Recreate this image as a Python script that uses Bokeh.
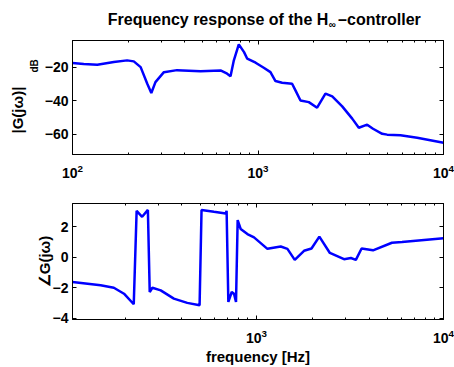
import numpy as np
from bokeh.plotting import figure
from bokeh.models import (LogAxis, LinearAxis, FixedTicker, Range1d, CustomJSTickFormatter,
                          Title)
from bokeh.core.properties import value
from bokeh.layouts import column
from bokeh.embed import file_html
from bokeh.resources import INLINE

FONT = "Liberation Sans"

# ---- data ----
f_mag = [100, 115, 136, 167, 197, 214, 233, 253, 266, 280, 311, 366, 490, 628, 682, 711,
         741, 788, 841, 875, 971, 1074, 1167, 1242, 1349, 1527, 1592, 1694, 1879, 2083,
         2310, 2513, 2844, 3220, 3495, 3877, 4169, 4672, 4970, 5860, 7211, 10000]
mag_db = [-17.6, -18.2, -18.6, -17.0, -16.0, -16.6, -20.0, -29.9, -35.4, -28.9, -23.0,
          -21.8, -22.4, -22.0, -23.9, -25.5, -16.0, -6.5, -11.1, -15.0, -17.4, -20.4,
          -23.0, -28.3, -29.3, -29.9, -33.8, -39.8, -40.8, -44.1, -35.8, -37.4, -43.3,
          -50.6, -56.0, -54.2, -56.6, -59.6, -60.1, -60.5, -61.9, -64.9]

f_ph = [104, 147, 173, 196, 221, 229, 245, 263, 269, 278, 308, 362, 427, 497, 509, 593,
        685, 693, 708, 738, 759, 778, 794, 824, 895, 971, 1145, 1349, 1465, 1603, 1797,
        1970, 2170, 2470, 2940, 3200, 3400, 3650, 4200, 5300, 6000, 10000]
phase = [-1.63, -1.84, -2.0, -2.39, -3.08, 3.04, 2.65, 3.1, -2.28, -2.0, -2.17, -2.71,
         -2.99, -3.15, 3.1, 2.98, 2.87, 3.04, -2.93, -2.28, -2.39, -2.93, 2.43, 1.85,
         1.52, 1.30, 0.55, 0.70, 0.55, -0.17, 0.42, 0.57, 1.35, 0.28, -0.13, -0.05,
         -0.17, 0.57, 0.45, 0.95, 1.0, 1.24]

mag_ticks = [-60, -40, -20]
ph_ticks = [-4, -2, 0, 2]
x_major = [100, 1000, 10000]
x_minor = [200, 300, 400, 500, 600, 700, 800, 900,
           2000, 3000, 4000, 5000, 6000, 7000, 8000, 9000]

title_main = "Frequency response of the H"
title_sub = "∞"
title_end = "–controller"

BLUE = "#0000ff"


def xticker():
    return FixedTicker(ticks=x_major, minor_ticks=x_minor)


def style(p, ticks):
    p.outline_line_color = "black"
    p.outline_line_width = 1
    p.xgrid.visible = False
    p.ygrid.visible = False
    p.xaxis.ticker = xticker()
    p.yaxis.ticker = FixedTicker(ticks=ticks, minor_ticks=[])
    p.yaxis.major_label_overrides = {t: ("−%d" % -t if t < 0 else "%d" % t) for t in ticks}
    # mirrored ticks (box on)
    p.add_layout(LinearAxis(ticker=FixedTicker(ticks=ticks, minor_ticks=[]),
                            formatter=CustomJSTickFormatter(code="return ''")), "right")
    p.add_layout(LogAxis(ticker=xticker(),
                         formatter=CustomJSTickFormatter(code="return ''")), "above")
    for ax in p.axis:
        ax.major_tick_in = 4
        ax.major_tick_out = 0
        ax.minor_tick_in = 2
        ax.minor_tick_out = 0
        ax.axis_line_color = "black"
        ax.major_tick_line_color = "black"
        ax.minor_tick_line_color = "black"
        ax.major_label_text_font = FONT
        ax.major_label_text_font_style = "bold"
        ax.major_label_text_color = "black"
        ax.axis_label_text_font = FONT
        ax.axis_label_text_font_style = "bold"
        ax.axis_label_text_color = "black"
    for ax in p.yaxis:
        ax.major_label_text_font_size = "14px"
        ax.major_label_standoff = 4
    for ax in p.xaxis:
        ax.major_label_text_font_size = "14px"
        ax.major_label_standoff = 9
    p.right[0].major_label_standoff = 0
    p.above[0].major_label_standoff = 0


def side_title(p, text, size, offset=0, standoff=0):
    p.add_layout(Title(text=text, align="left", offset=offset, standoff=standoff,
                       text_font=FONT, text_font_style="bold", text_font_size=size,
                       text_color="black"), "left")


# ---- title strip ----
pt = figure(width=454, height=30, x_range=Range1d(0, 454), y_range=Range1d(0, 30),
            output_backend="svg", toolbar_location=None, min_border=0)
pt.axis.visible = False
pt.grid.visible = False
pt.outline_line_color = None
pt.text(x=[313], y=[11], text=[title_main], text_align="right", text_baseline="alphabetic",
        text_font=value(FONT), text_font_style="bold", text_font_size="16px",
        text_color="black")
pt.text(x=[313.5], y=[6], text=[title_sub], text_align="left", text_baseline="alphabetic",
        text_font=value(FONT), text_font_style="bold", text_font_size="10px",
        text_color="black")
pt.text(x=[325], y=[11], text=[title_end], text_align="left", text_baseline="alphabetic",
        text_font=value(FONT), text_font_style="bold", text_font_size="16px",
        text_color="black")

# ---- magnitude ----
p1 = figure(width=454, height=160, x_axis_type="log", x_range=Range1d(100, 10000),
            y_range=Range1d(-71.9, -4.2), output_backend="svg", toolbar_location=None,
            min_border_left=72, min_border_right=11, min_border_top=10, min_border_bottom=36)
p1.line(f_mag, mag_db, line_color=BLUE, line_width=2.5)
style(p1, mag_ticks)
side_title(p1, "dB", "10px", offset=82, standoff=3)
side_title(p1, "|G(jω)|", "15px", offset=21)

# ---- phase ----
p2 = figure(width=454, height=177, x_axis_type="log", x_range=Range1d(104, 10000),
            y_range=Range1d(-4.08, 3.52), output_backend="svg", toolbar_location=None,
            min_border_left=72, min_border_right=11, min_border_top=13, min_border_bottom=48)
p2.line(f_ph, phase, line_color=BLUE, line_width=2.5)
style(p2, ph_ticks)
yax = p2.left[0]
yax.axis_label = "∠G(jω)"
yax.axis_label_text_font_size = "15px"
yax.axis_label_standoff = -3
xax = p2.below[0]
xax.axis_label = "frequency [Hz]"
xax.axis_label_text_font_size = "15px"
xax.axis_label_standoff = 2

layout = column(pt, p1, p2, spacing=0)
open("out.html", "w").write(file_html(layout, INLINE))
